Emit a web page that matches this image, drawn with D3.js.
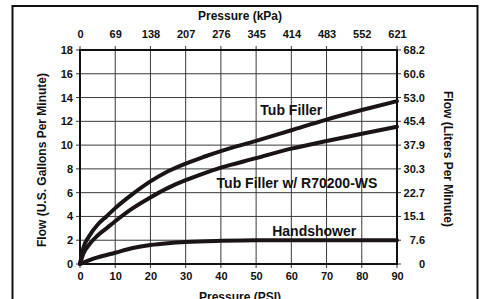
<!DOCTYPE html>
<html>
<head>
<meta charset="utf-8">
<script src="https://cdn.jsdelivr.net/npm/d3@7"></script>
<style>
  body { margin: 0; background: #fff; }
  svg { display: block; }
  text { font-family: "Liberation Sans", Arial, sans-serif; font-weight: bold; fill: #111; }
</style>
</head>
<body>
<div id="chart"></div>
<script>
// tick values / labels
var psiTicks = [0, 10, 20, 30, 40, 50, 60, 70, 80, 90];
var kpaLabels = ["0", "69", "138", "207", "276", "345", "414", "483", "552", "621"];
var gpmTicks = [0, 2, 4, 6, 8, 10, 12, 14, 16, 18];
var lpmLabels = ["0", "7.6", "15.1", "22.7", "30.3", "37.9", "45.4", "53.0", "60.6", "68.2"];

// series (psi, gpm)
var tubPsi = [0, 1, 2.5, 5, 7.5, 10, 15, 20, 25, 30, 35, 40, 50, 60, 70, 80, 90];
var tubFlow = [0, 1.4, 2.3, 3.3, 4.0, 4.7, 5.9, 6.95, 7.8, 8.45, 9.0, 9.5, 10.35, 11.25, 12.15, 12.95, 13.7];
var wsPsi = [0, 1, 2.5, 5, 7.5, 10, 15, 20, 25, 30, 35, 40, 50, 60, 70, 80, 90];
var wsFlow = [0, 0.9, 1.6, 2.4, 3.0, 3.6, 4.7, 5.6, 6.4, 7.05, 7.6, 8.1, 8.9, 9.7, 10.35, 10.95, 11.55];
var hsPsi = [0, 2.5, 5, 10, 15, 20, 25, 30, 40, 50, 60, 70, 80, 90];
var hsFlow = [0, 0.3, 0.55, 0.95, 1.35, 1.6, 1.75, 1.85, 1.95, 2.0, 2.0, 2.0, 2.0, 2.0];

var width = 485, height = 299;
var margin = {top: 50, right: 88, bottom: 35, left: 80};
var w = width - margin.left - margin.right,
    h = height - margin.top - margin.bottom;

var svg = d3.select("#chart").append("svg")
    .attr("width", width)
    .attr("height", height);

// frame round the whole thing
svg.append("rect")
    .attr("x", 12.5).attr("y", 6)
    .attr("width", 465).attr("height", 320)
    .attr("fill", "none")
    .attr("stroke", "#111")
    .attr("stroke-width", 2);

var g = svg.append("g")
    .attr("transform", "translate(" + margin.left + "," + margin.top + ")");

var x = d3.scaleLinear().domain([0, 90]).range([0, w]);
var y = d3.scaleLinear().domain([0, 18]).range([h, 0]);

// grid
g.append("g").selectAll("line.v")
  .data(psiTicks)
  .join("line")
    .attr("x1", d => x(d)).attr("x2", d => x(d))
    .attr("y1", -4).attr("y2", h + 4)
    .attr("stroke", "#3a3a3a").attr("stroke-width", 1);

g.append("g").selectAll("line.h")
  .data(gpmTicks)
  .join("line")
    .attr("y1", d => y(d)).attr("y2", d => y(d))
    .attr("x1", -4).attr("x2", w + 4)
    .attr("stroke", "#3a3a3a").attr("stroke-width", 1);

// axis frame lines
g.append("rect")
    .attr("width", w).attr("height", h)
    .attr("fill", "none")
    .attr("stroke", "#111")
    .attr("stroke-width", 2);

// bottom axis (psi)
var xAxis = d3.axisBottom(x).tickValues(psiTicks).tickSize(0).tickPadding(8);
g.append("g")
    .attr("transform", "translate(0," + h + ")")
    .call(xAxis)
    .call(a => a.select(".domain").remove())
    .selectAll("text").style("font-size", "11px");

// top axis (kPa labels at psi positions)
var xAxisTop = d3.axisTop(x).tickValues(psiTicks)
    .tickFormat((d, i) => kpaLabels[i]).tickSize(0).tickPadding(12);
g.append("g")
    .call(xAxisTop)
    .call(a => a.select(".domain").remove())
    .selectAll("text").style("font-size", "11px");

// left axis (gpm)
var yAxis = d3.axisLeft(y).tickValues(gpmTicks).tickSize(0).tickPadding(7);
g.append("g")
    .call(yAxis)
    .call(a => a.select(".domain").remove())
    .selectAll("text").style("font-size", "11px");

// right axis (lpm), right aligned like the original
var yAxisR = d3.axisRight(y).tickValues(gpmTicks)
    .tickFormat((d, i) => lpmLabels[i]).tickSize(0).tickPadding(28);
g.append("g")
    .attr("transform", "translate(" + w + ",0)")
    .call(yAxisR)
    .call(a => a.select(".domain").remove())
    .selectAll("text")
    .style("font-size", "11px")
    .attr("text-anchor", "end");

// curves
var line = d3.line()
    .x(d => x(d[0]))
    .y(d => y(d[1]))
    .curve(d3.curveMonotoneX);

var series = [
  d3.zip(tubPsi, tubFlow),
  d3.zip(wsPsi, wsFlow),
  d3.zip(hsPsi, hsFlow)
];

g.selectAll("path.curve")
  .data(series)
  .join("path")
    .attr("class", "curve")
    .attr("d", line)
    .attr("fill", "none")
    .attr("stroke", "#1a1414")
    .attr("stroke-width", 4)
    .attr("stroke-linecap", "round");

// series labels
var seriesNames = ["Tub Filler", "Tub Filler w/ R70200-WS", "Handshower"];
var labelAt = [[60, 12.55], [61.6, 6.4], [66.5, 2.35]];
g.selectAll("text.lab")
  .data(seriesNames)
  .join("text")
    .attr("class", "lab")
    .attr("x", (d, i) => x(labelAt[i][0]))
    .attr("y", (d, i) => y(labelAt[i][1]))
    .attr("text-anchor", "middle")
    .style("font-size", "14px")
    .text(d => d);

// axis titles
svg.append("text")
    .attr("x", 240).attr("y", 19.5)
    .attr("text-anchor", "middle")
    .style("font-size", "12px")
    .text("Pressure (kPa)");

svg.append("text")
    .attr("x", 240).attr("y", 300.5)
    .attr("text-anchor", "middle")
    .style("font-size", "12px")
    .text("Pressure (PSI)");

svg.append("text")
    .attr("transform", "translate(46,160) rotate(-90)")
    .attr("text-anchor", "middle")
    .style("font-size", "12px")
    .text("Flow (U.S. Gallons Per Minute)");

svg.append("text")
    .attr("transform", "translate(444,159) rotate(90)")
    .attr("text-anchor", "middle")
    .style("font-size", "12px")
    .text("Flow (Liters Per Minute)");
</script>
</body>
</html>
